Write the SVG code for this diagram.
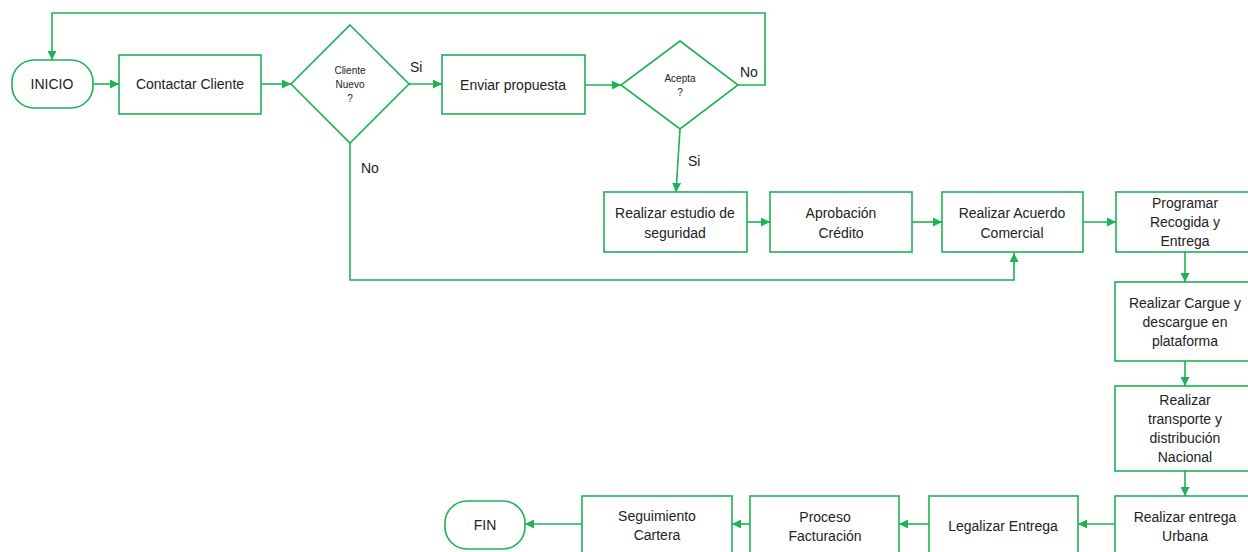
<svg xmlns="http://www.w3.org/2000/svg" width="1248" height="552" viewBox="0 0 1248 552">
<style>
.s{fill:#fff;stroke:#1DB254;stroke-width:1.6}
.c{fill:none;stroke:#1DB254;stroke-width:1.6}
text{font-family:"Liberation Sans",Arial,sans-serif;font-size:14px;fill:#222;text-anchor:middle}
.sm{font-size:10px}
.lb{text-anchor:start}
</style>
<defs>
<marker id="a" viewBox="0 0 10 10" refX="10" refY="5" markerWidth="9" markerHeight="9" markerUnits="userSpaceOnUse" orient="auto">
<path d="M0,0L10,5L0,10z" fill="#1DB254"/>
</marker>
</defs>
<rect width="1248" height="552" fill="#fff"/>
<g id="connectors" class="c" marker-end="url(#a)">
<path d="M738,85H765V13H52V60" marker-end="url(#a)"/>
<path d="M93,84H119"/>
<path d="M261,84H291"/>
<path d="M409,84H442"/>
<path d="M585,85H621"/>
<path d="M680,129L676,192"/>
<path d="M350,143V280H1014V253"/>
<path d="M747,222H770"/>
<path d="M912,222H942"/>
<path d="M1083,222H1116"/>
<path d="M1185,252V282"/>
<path d="M1185,361V386"/>
<path d="M1185,471V496"/>
<path d="M1115,524H1078"/>
<path d="M929,524H899"/>
<path d="M750,524H732"/>
<path d="M582,524H525"/>
</g>
<g id="labels">
<text class="lb" x="410" y="72">Si</text>
<text class="lb" x="740" y="77">No</text>
<text class="lb" x="688" y="166">Si</text>
<text class="lb" x="361" y="173">No</text>
</g>
<g id="inicio"><rect class="s" x="12" y="60" width="81" height="48" rx="22"/><text x="52" y="89">INICIO</text></g>
<g id="contactar"><rect class="s" x="119" y="55" width="142" height="59"/><text x="190" y="89">Contactar Cliente</text></g>
<g id="clienteNuevo"><path class="s" d="M350,25L409,84L350,143L291,84z"/><text class="sm" x="350" y="74">Cliente</text><text class="sm" x="350" y="88">Nuevo</text><text class="sm" x="350" y="102">?</text></g>
<g id="enviar"><rect class="s" x="442" y="55" width="143" height="59"/><text x="513" y="90">Enviar propuesta</text></g>
<g id="acepta"><path class="s" d="M680,41L738,85L680,129L621,85z"/><text class="sm" x="680" y="82">Acepta</text><text class="sm" x="680" y="96">?</text></g>
<g id="estudio"><rect class="s" x="604" y="192" width="143" height="60"/><text x="675" y="218">Realizar estudio de</text><text x="675" y="238">seguridad</text></g>
<g id="aprobacion"><rect class="s" x="770" y="192" width="142" height="60"/><text x="841" y="218">Aprobación</text><text x="841" y="238">Crédito</text></g>
<g id="acuerdo"><rect class="s" x="942" y="192" width="141" height="60"/><text x="1012" y="218">Realizar Acuerdo</text><text x="1012" y="238">Comercial</text></g>
<g id="programar"><rect class="s" x="1116" y="192" width="140" height="60"/><text x="1185" y="208">Programar</text><text x="1185" y="227">Recogida y</text><text x="1185" y="246">Entrega</text></g>
<g id="cargue"><rect class="s" x="1115" y="282" width="141" height="79"/><text x="1185" y="308">Realizar Cargue y</text><text x="1185" y="327">descargue en</text><text x="1185" y="346">plataforma</text></g>
<g id="transporte"><rect class="s" x="1115" y="386" width="141" height="85"/><text x="1185" y="405">Realizar</text><text x="1185" y="424">transporte y</text><text x="1185" y="443">distribución</text><text x="1185" y="462">Nacional</text></g>
<g id="urbana"><rect class="s" x="1115" y="496" width="141" height="70"/><text x="1185" y="522">Realizar entrega</text><text x="1185" y="541">Urbana</text></g>
<g id="legalizar"><rect class="s" x="929" y="496" width="149" height="70"/><text x="1003" y="531">Legalizar Entrega</text></g>
<g id="facturacion"><rect class="s" x="750" y="496" width="149" height="70"/><text x="825" y="522">Proceso</text><text x="825" y="541">Facturación</text></g>
<g id="cartera"><rect class="s" x="582" y="496" width="150" height="70"/><text x="657" y="521">Seguimiento</text><text x="657" y="540">Cartera</text></g>
<g id="fin"><rect class="s" x="445" y="501" width="80" height="48" rx="22"/><text x="485" y="530">FIN</text></g>
</svg>
